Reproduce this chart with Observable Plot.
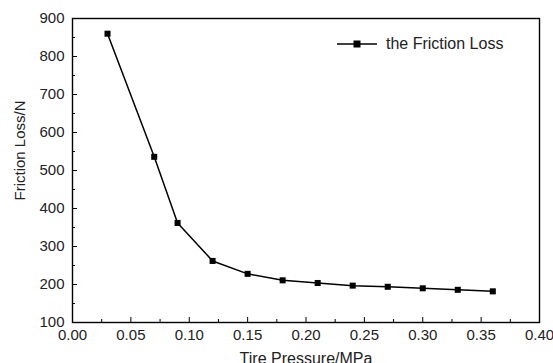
<!DOCTYPE html>
<html><head>
<meta charset="utf-8">
<script src="https://cdn.jsdelivr.net/npm/d3@7"></script>
<script src="https://cdn.jsdelivr.net/npm/@observablehq/plot@0.6"></script>
<style>
body{margin:0;background:#fff;}
#wrap{position:relative;width:553px;height:363px;overflow:hidden;font-family:"Liberation Sans",Arial,sans-serif;background:#fff}
#legend{position:absolute;left:337px;top:34px;display:flex;align-items:center;font-size:16px;color:#222;white-space:nowrap}
</style>
</head><body><div id="wrap"></div>
<script>
const pressure = [0.03, 0.07, 0.09, 0.12, 0.15, 0.18, 0.21, 0.24, 0.27, 0.30, 0.33, 0.36];
const frictionLoss = [860, 536, 362, 262, 228, 211, 204, 197, 194, 190, 186, 182];
const xTicks = [0.00, 0.05, 0.10, 0.15, 0.20, 0.25, 0.30, 0.35, 0.40];
const xMinor = [0.025, 0.075, 0.125, 0.175, 0.225, 0.275, 0.325, 0.375];
const yTicks = [100, 200, 300, 400, 500, 600, 700, 800, 900];
const yMinor = [150, 250, 350, 450, 550, 650, 750, 850];
const xLabel = "Tire Pressure/MPa";
const yLabel = "Friction Loss/N";
const seriesName = "the Friction Loss";

const data = pressure.map((p, i) => ({p, f: frictionLoss[i]}));
const font = {fontSize: "15px", fontFamily: "'Liberation Sans', Arial, sans-serif"};
const ink = "#222";

const chart = Plot.plot({
  width: 553, height: 363,
  marginLeft: 72, marginRight: 14, marginTop: 18, marginBottom: 41,
  style: {background: "#fff", color: ink, ...font},
  x: {domain: [0, 0.4]},
  y: {domain: [100, 900]},
  marks: [
    Plot.axisX(xTicks, {tickSize: 0, tickPadding: 7, tickFormat: d3.format(".2f"), label: null, fill: ink, ...font}),
    Plot.axisX(xTicks, {tickSize: -5, tickFormat: () => "", label: null, stroke: "#000"}),
    Plot.axisX(xMinor, {tickSize: -3, tickFormat: () => "", label: null, stroke: "#000"}),
    Plot.axisY(yTicks, {tickSize: 0, tickPadding: 8, label: null, fill: ink, ...font}),
    Plot.axisY(yTicks, {tickSize: -5, tickFormat: () => "", label: null, stroke: "#000"}),
    Plot.axisY(yMinor, {tickSize: -3, tickFormat: () => "", label: null, stroke: "#000"}),
    Plot.frame({stroke: "#000", strokeWidth: 1.4}),
    Plot.line(data, {x: "p", y: "f", stroke: "#000", strokeWidth: 1.5}),
    Plot.dot(data, {x: "p", y: "f", symbol: "square", fill: "#000", r: 3.4}),
    Plot.text([yLabel], {frameAnchor: "left", textAnchor: "middle", dx: -52, dy: -20, rotate: -90, fill: ink, fontSize: 15}),
    Plot.text([xLabel], {frameAnchor: "bottom", textAnchor: "middle", dy: 30, lineAnchor: "top", fill: ink, fontSize: 16})
  ]
});
const wrap = document.getElementById("wrap");
wrap.appendChild(chart);
const lg = document.createElement("div");
lg.id = "legend";
lg.innerHTML = `<svg width="40" height="20" style="margin-right:9px"><line x1="0" y1="10" x2="40" y2="10" stroke="#000" stroke-width="1.5"/><rect x="16.5" y="6.5" width="7" height="7" fill="#000"/></svg><span>${seriesName}</span>`;
wrap.appendChild(lg);
</script>
</body></html>
